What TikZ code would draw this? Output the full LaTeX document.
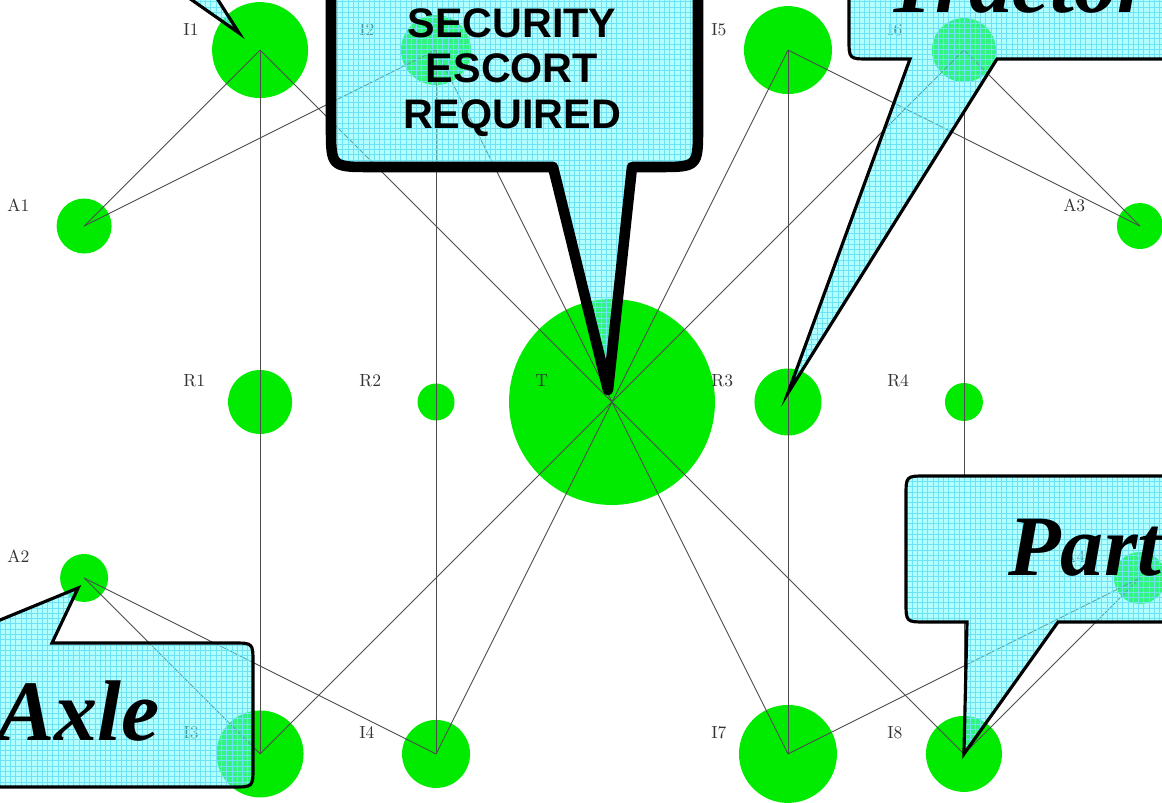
\documentclass[tikz,border=0pt]{standalone}
\usepackage{fontspec}
\newfontfamily\signsans{Liberation Sans}
\newfontfamily\signserif{Liberation Serif}
\usetikzlibrary{patterns}

\definecolor{nodegreen}{RGB}{0,235,0}
\definecolor{bubblecyan}{RGB}{100,255,255}
\definecolor{bubblegrid}{RGB}{110,225,245}

\begin{document}
\begin{tikzpicture}[
    x=0.02cm, y=-0.02cm,
    node distance=3.52cm,
    vertex/.style={circle, fill=nodegreen, inner sep=0pt, minimum size=#1},
    vlabel/.style={anchor=base west, inner sep=0pt, text=black!80, font=\normalsize},
    link/.style={draw=black!70, line width=0.5pt},
    bubble/.style={draw=black, line width=1.8pt,
        preaction={fill=bubblecyan, fill opacity=0.5},
        preaction={pattern=grid, pattern color=bubblegrid, fill opacity=0.3}},
    signtext/.style={inner sep=0pt, font=\signserif\bfseries\itshape\fontsize{49}{56}\selectfont}
]
\useasboundingbox (0,0) rectangle (1162,803);
\clip (0,0) rectangle (1162,803);

% Middle row
\node[vertex=4.12cm] (T) at (612,402) {};
\node[vertex=1.34cm, right of=T] (R3) {};
\node[vertex=0.76cm, right of=R3] (R4) {};
\node[vertex=0.74cm, left of=T] (R2) {};
\node[vertex=1.28cm, left of=R2] (R1) {};

% Top row
\node[vertex=1.92cm, above of=R1, yshift=3.52cm] (I1) {};
\node[vertex=1.40cm, above of=R2, yshift=3.52cm] (I2) {};
\node[vertex=1.76cm, above of=R3, yshift=3.52cm] (I5) {};
\node[vertex=1.28cm, above of=R4, yshift=3.52cm] (I6) {};

% Bottom row
\node[vertex=1.74cm, below of=R1, yshift=-3.52cm] (I3) {};
\node[vertex=1.36cm, below of=R2, yshift=-3.52cm] (I4) {};
\node[vertex=1.96cm, below of=R3, yshift=-3.52cm] (I7) {};
\node[vertex=1.52cm, below of=R4, yshift=-3.52cm] (I8) {};

% Outer columns
\node[vertex=1.10cm, above of=R1, xshift=-3.52cm] (A1) {};
\node[vertex=0.96cm, below of=R1, xshift=-3.52cm] (A2) {};
\node[vertex=0.92cm, above of=R4, xshift=3.52cm] (A3) {};
\node[vertex=1.04cm, below of=R4, xshift=3.52cm] (A4) {};

% Edges
\draw[link] (A1.center) -- (I1.center);
\draw[link] (A1.center) -- (I2.center);
\draw[link] (A3.center) -- (I5.center);
\draw[link] (A3.center) -- (I6.center);
\draw[link] (A2.center) -- (I3.center);
\draw[link] (A2.center) -- (I4.center);
\draw[link] (A4.center) -- (I7.center);
\draw[link] (A4.center) -- (I8.center);
\draw[link] (I1.center) -- (I3.center);
\draw[link] (I2.center) -- (I4.center);
\draw[link] (I5.center) -- (I7.center);
\draw[link] (I6.center) -- (I8.center);
\draw[link] (T.center) -- (I1.center);
\draw[link] (T.center) -- (I2.center);
\draw[link] (T.center) -- (I5.center);
\draw[link] (T.center) -- (I6.center);
\draw[link] (T.center) -- (I3.center);
\draw[link] (T.center) -- (I4.center);
\draw[link] (T.center) -- (I7.center);
\draw[link] (T.center) -- (I8.center);

% Labels
\node[vlabel] (lI1) at ([shift={(-77,-15)}]I1.center) {I1};
\node[vlabel] (lI2) at ([shift={(-77,-15)}]I2.center) {I2};
\node[vlabel] (lI5) at ([shift={(-77,-15)}]I5.center) {I5};
\node[vlabel] (lI6) at ([shift={(-77,-15)}]I6.center) {I6};
\node[vlabel] (lA1) at ([shift={(-77,-15)}]A1.center) {A1};
\node[vlabel] (lA3) at ([shift={(-77,-15)}]A3.center) {A3};
\node[vlabel] (lR1) at ([shift={(-77,-15)}]R1.center) {R1};
\node[vlabel] (lR2) at ([shift={(-77,-15)}]R2.center) {R2};
\node[vlabel] (lT) at ([shift={(-77,-15)}]T.center) {T};
\node[vlabel] (lR3) at ([shift={(-77,-15)}]R3.center) {R3};
\node[vlabel] (lR4) at ([shift={(-77,-15)}]R4.center) {R4};
\node[vlabel] (lA2) at ([shift={(-77,-15)}]A2.center) {A2};
\node[vlabel] (lA4) at ([shift={(-77,-15)}]A4.center) {A4};
\node[vlabel] (lI3) at ([shift={(-77,-15)}]I3.center) {I3};
\node[vlabel] (lI4) at ([shift={(-77,-15)}]I4.center) {I4};
\node[vlabel] (lI7) at ([shift={(-77,-15)}]I7.center) {I7};
\node[vlabel] (lI8) at ([shift={(-77,-15)}]I8.center) {I8};

% Callouts
\draw[bubble] (-100,-200) -- (-100,-30) -- (149,-30) -- ([shift={(-21,-17)}]I1.center)
    -- (199,-30) -- (400,-30) -- (400,-200) -- cycle;

\draw[bubble, line width=6pt, line join=round] (331,-60) -- (331,127) .. controls (331,167) .. (371,167)
    -- (553,167) -- ([shift={(-4,-12)}]T.center) -- (632,167) -- (658,167)
    .. controls (698,167) .. (698,127) -- (698,-60) -- cycle;
\node[font=\signsans\bfseries\fontsize{23.5}{26}\selectfont, align=center, anchor=north, inner sep=0pt]
    (escort) at (512,8) {SECURITY\\ESCORT\\REQUIRED};

\draw[bubble] (849,-120) -- (849,39) .. controls (849,59) .. (869,59) -- (910,59)
    -- ([shift={(0,-9)}]R3.center) -- (997,59) -- (1220,59) -- (1220,-120) -- cycle;
\node[signtext, anchor=base west] (tractor) at (886,13) {Tractor};

\draw[bubble] (906,496) .. controls (906,476) .. (926,476) -- (1220,476) -- (1220,622)
    -- (1058,622) -- (I8.center) -- (967,622) -- (926,622) .. controls (906,622) .. (906,602) -- cycle;
\node[signtext, anchor=base west] (parts) at (1008,575) {Part};

\draw[bubble] (-60,643) -- (-56,643) -- ([shift={(-6,10)}]A2.center) -- (52,643) -- (233,643)
    .. controls (253,643) .. (253,663) -- (253,767) .. controls (253,787) .. (233,787) -- (-60,787) -- cycle;
\node[signtext, anchor=base east] (axle) at (160,740) {Axle};

\end{tikzpicture}
\end{document}
